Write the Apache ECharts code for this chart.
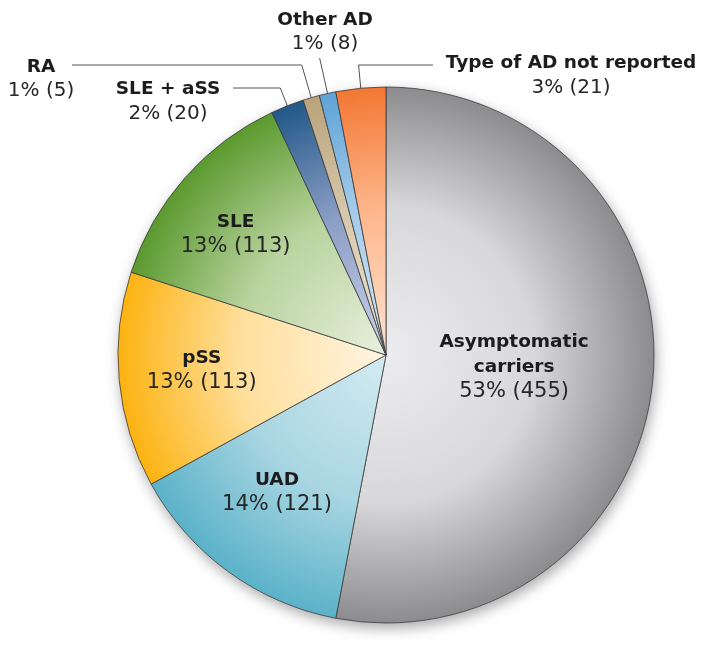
<!DOCTYPE html>
<html><head><meta charset="utf-8">
<script src="https://cdn.jsdelivr.net/npm/echarts@6/dist/echarts.min.js"></script>
<style>html,body{margin:0;padding:0;background:#fff}#c{width:704px;height:654px}</style>
</head><body><div id="c"></div>
<script>
// ---- data ----
const categories = ['Asymptomatic carriers','UAD','pSS','SLE','SLE + aSS','RA','Other AD','Type of AD not reported'];
const percents = [53,14,13,13,2,1,1,3];
const counts = [455,121,113,113,20,5,8,21];

// ---- styling / layout ----
const CX = 386, CY = 355, R = 268;
const gradStops = [
  ['#ececee','#d8d8da','#8c8c8e'],
  ['#d4ebf1','#a9d6e2','#5bb2c8'],
  ['#fff5e2','#ffdf9c','#fcb311'],
  ['#e8f0de','#b9d39e','#5b9a2f'],
  ['#ccd2ea','#8a9dc4','#225888'],
  ['#ece4d4','#d6c8ac','#b9a37a'],
  ['#d6e8f6','#a4cbea','#5ea3d6'],
  ['#ffe4d2','#fdb58a','#f37733']
];
const labelCfg = [
  {type:'in', f:0.48, da:0},
  {type:'in', f:0.655, da:2.4},
  {type:'in', f:0.69, da:0.6},
  {type:'in', f:0.72, da:-2.6},
  {type:'out', x:168, y:101.5, lineY:88, lineX:233, fr:0.955},
  {type:'out', x:41, y:79, lineY:65, lineX:72, fr:0.97},
  {type:'out', x:325, y:32, lineY:58, lineX:null, fr:0.965},
  {type:'out', x:571, y:75.5, lineY:65, lineX:433, fr:0.95}
];

const total = percents.reduce((a,b)=>a+b,0);
let acc = 0;
const mids = percents.map(p => { const m = (acc + p/2) / total * 360; acc += p; return m; });
function polar(r, deg){ const a = deg*Math.PI/180; return [CX + r*Math.sin(a), CY - r*Math.cos(a)]; }

const data = categories.map((name, i) => {
  const s = gradStops[i];
  const inside = labelCfg[i].type === 'in';
  return {
    name: name,
    value: percents[i],
    itemStyle: {
      color: {type:'radial', x:CX, y:CY, r:R, global:true,
        colorStops:[{offset:0,color:s[0]},{offset:0.55,color:s[1]},{offset:1,color:s[2]}]}
    },
    label: {
      position: inside ? 'inside' : 'outside',
      fontSize: inside ? 21 : 20
    },
    labelLine: {show: !inside}
  };
});

function fmt(params){
  const i = params.dataIndex;
  const inside = labelCfg[i].type === 'in';
  const nm = i === 0 ? ['Asymptomatic','carriers'] : [categories[i]];
  const b = inside ? 'bi' : 'bo';
  const v = inside ? 'vi' : 'vo';
  return nm.map(n => '{' + b + '|' + n + '}').join('\n') + '\n{' + v + '|' + percents[i] + '% (' + counts[i] + ')}';
}

const chart = echarts.init(document.getElementById('c'), null, {renderer:'canvas'});
chart.setOption({
  backgroundColor: '#ffffff',
  animation: false,
  series: [
    {
      type: 'pie', silent: true, z: 1,
      center: [CX, CY], radius: R,
      label: {show:false}, labelLine:{show:false},
      itemStyle: {color:'#ffffff', shadowBlur: 14, shadowColor:'rgba(0,0,0,0.35)', shadowOffsetX: 2, shadowOffsetY: 5},
      data: [{name:'total', value: total}]
    },
    {
      type: 'pie', z: 2,
      center: [CX, CY], radius: R,
      startAngle: 90, clockwise: true,
      avoidLabelOverlap: false,
      itemStyle: {borderColor:'#3a3a3a', borderWidth:0.8},
      label: {
        show: true,
        formatter: fmt,
        align: 'center',
        rich: {
          bi: {fontFamily:'DejaVu Sans', fontWeight:'bold', fontSize:18.5, color:'#1c1c1c', lineHeight:24.5, align:'center'},
          vi: {fontFamily:'DejaVu Sans', fontSize:21, color:'#262626', lineHeight:24.5, align:'center'},
          bo: {fontFamily:'DejaVu Sans', fontWeight:'bold', fontSize:18.5, color:'#1c1c1c', lineHeight:24, align:'center'},
          vo: {fontFamily:'DejaVu Sans', fontSize:20, color:'#262626', lineHeight:24, align:'center'}
        }
      },
      labelLine: {lineStyle:{color:'#555555', width:1}},
      labelLayout: function(params){
        const i = params.dataIndex;
        const c = labelCfg[i];
        if (c.type === 'in') {
          const p = polar(c.f * R, mids[i] + c.da);
          return {x: p[0], y: p[1], align:'center', verticalAlign:'middle'};
        }
        const inner = polar(c.fr * R, mids[i]);
        const a = mids[i]*Math.PI/180;
        const rr = (CY - c.lineY) / Math.cos(a);
        const elbow = polar(rr, mids[i]);
        const end = c.lineX == null ? elbow : [c.lineX, c.lineY];
        return {x: c.x, y: c.y, align:'center', verticalAlign:'middle',
          labelLinePoints: [inner, elbow, end]};
      },
      data: data
    }
  ]
});
</script>
</body></html>
